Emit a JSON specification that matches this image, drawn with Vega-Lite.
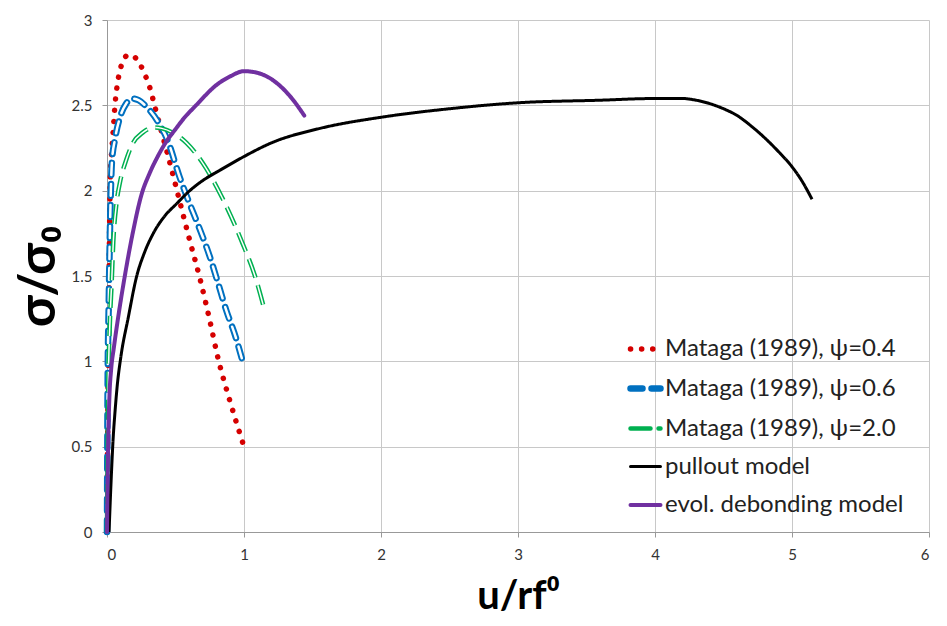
{
  "$schema": "https://vega.github.io/schema/vega-lite/v6.json",
  "width": 822,
  "height": 512,
  "autosize": {"type": "none"},
  "padding": {"left": 107, "top": 20, "right": 18, "bottom": 94},
  "background": "white",
  "config": {
    "view": {"stroke": null},
    "font": "Lato",
    "axis": {
      "gridColor": "#c8c8c8",
      "gridWidth": 1,
      "domainColor": "#999999",
      "tickColor": "#999999",
      "tickSize": 5,
      "labelFont": "Lato",
      "labelFontSize": 15,
      "labelColor": "#333333",
      "titleFont": "Lato",
      "titleFontWeight": "bold",
      "titleColor": "#000000"
    }
  },
  "data": {
    "values": [
      {"series": "Mataga (1989), ψ=0.4", "u": 0, "s": 0},
      {"series": "Mataga (1989), ψ=0.4", "u": 0.005, "s": 0.6},
      {"series": "Mataga (1989), ψ=0.4", "u": 0.012, "s": 1.2},
      {"series": "Mataga (1989), ψ=0.4", "u": 0.018, "s": 1.7},
      {"series": "Mataga (1989), ψ=0.4", "u": 0.022, "s": 2.0},
      {"series": "Mataga (1989), ψ=0.4", "u": 0.028, "s": 2.15},
      {"series": "Mataga (1989), ψ=0.4", "u": 0.036, "s": 2.25},
      {"series": "Mataga (1989), ψ=0.4", "u": 0.046, "s": 2.36},
      {"series": "Mataga (1989), ψ=0.4", "u": 0.058, "s": 2.5},
      {"series": "Mataga (1989), ψ=0.4", "u": 0.07, "s": 2.59},
      {"series": "Mataga (1989), ψ=0.4", "u": 0.083, "s": 2.66},
      {"series": "Mataga (1989), ψ=0.4", "u": 0.107, "s": 2.74},
      {"series": "Mataga (1989), ψ=0.4", "u": 0.13, "s": 2.78},
      {"series": "Mataga (1989), ψ=0.4", "u": 0.156, "s": 2.795},
      {"series": "Mataga (1989), ψ=0.4", "u": 0.19, "s": 2.79},
      {"series": "Mataga (1989), ψ=0.4", "u": 0.217, "s": 2.77},
      {"series": "Mataga (1989), ψ=0.4", "u": 0.277, "s": 2.68},
      {"series": "Mataga (1989), ψ=0.4", "u": 0.314, "s": 2.6},
      {"series": "Mataga (1989), ψ=0.4", "u": 0.35, "s": 2.49},
      {"series": "Mataga (1989), ψ=0.4", "u": 0.41, "s": 2.31},
      {"series": "Mataga (1989), ψ=0.4", "u": 0.447, "s": 2.2},
      {"series": "Mataga (1989), ψ=0.4", "u": 0.533, "s": 1.93},
      {"series": "Mataga (1989), ψ=0.4", "u": 0.6, "s": 1.72},
      {"series": "Mataga (1989), ψ=0.4", "u": 0.68, "s": 1.48},
      {"series": "Mataga (1989), ψ=0.4", "u": 0.75, "s": 1.24},
      {"series": "Mataga (1989), ψ=0.4", "u": 0.81, "s": 1.02},
      {"series": "Mataga (1989), ψ=0.4", "u": 0.9, "s": 0.76},
      {"series": "Mataga (1989), ψ=0.4", "u": 1.0, "s": 0.5},
      {"series": "Mataga (1989), ψ=0.6", "u": 0, "s": 0},
      {"series": "Mataga (1989), ψ=0.6", "u": 0.005, "s": 0.9},
      {"series": "Mataga (1989), ψ=0.6", "u": 0.012, "s": 1.3},
      {"series": "Mataga (1989), ψ=0.6", "u": 0.02, "s": 1.7},
      {"series": "Mataga (1989), ψ=0.6", "u": 0.028, "s": 2.0},
      {"series": "Mataga (1989), ψ=0.6", "u": 0.036, "s": 2.17},
      {"series": "Mataga (1989), ψ=0.6", "u": 0.058, "s": 2.3},
      {"series": "Mataga (1989), ψ=0.6", "u": 0.095, "s": 2.43},
      {"series": "Mataga (1989), ψ=0.6", "u": 0.14, "s": 2.51},
      {"series": "Mataga (1989), ψ=0.6", "u": 0.18, "s": 2.54},
      {"series": "Mataga (1989), ψ=0.6", "u": 0.23, "s": 2.53},
      {"series": "Mataga (1989), ψ=0.6", "u": 0.29, "s": 2.49},
      {"series": "Mataga (1989), ψ=0.6", "u": 0.375, "s": 2.4},
      {"series": "Mataga (1989), ψ=0.6", "u": 0.44, "s": 2.3},
      {"series": "Mataga (1989), ψ=0.6", "u": 0.53, "s": 2.08},
      {"series": "Mataga (1989), ψ=0.6", "u": 0.6, "s": 1.93},
      {"series": "Mataga (1989), ψ=0.6", "u": 0.65, "s": 1.83},
      {"series": "Mataga (1989), ψ=0.6", "u": 0.76, "s": 1.59},
      {"series": "Mataga (1989), ψ=0.6", "u": 0.81, "s": 1.46},
      {"series": "Mataga (1989), ψ=0.6", "u": 0.87, "s": 1.3},
      {"series": "Mataga (1989), ψ=0.6", "u": 0.94, "s": 1.14},
      {"series": "Mataga (1989), ψ=0.6", "u": 1.0, "s": 0.97},
      {"series": "Mataga (1989), ψ=2.0", "u": 0, "s": 0},
      {"series": "Mataga (1989), ψ=2.0", "u": 0.008, "s": 0.8},
      {"series": "Mataga (1989), ψ=2.0", "u": 0.02, "s": 1.2},
      {"series": "Mataga (1989), ψ=2.0", "u": 0.034, "s": 1.46},
      {"series": "Mataga (1989), ψ=2.0", "u": 0.046, "s": 1.7},
      {"series": "Mataga (1989), ψ=2.0", "u": 0.07, "s": 1.93},
      {"series": "Mataga (1989), ψ=2.0", "u": 0.095, "s": 2.05},
      {"series": "Mataga (1989), ψ=2.0", "u": 0.14, "s": 2.18},
      {"series": "Mataga (1989), ψ=2.0", "u": 0.19, "s": 2.28},
      {"series": "Mataga (1989), ψ=2.0", "u": 0.26, "s": 2.34},
      {"series": "Mataga (1989), ψ=2.0", "u": 0.34, "s": 2.37},
      {"series": "Mataga (1989), ψ=2.0", "u": 0.4, "s": 2.365},
      {"series": "Mataga (1989), ψ=2.0", "u": 0.48, "s": 2.34},
      {"series": "Mataga (1989), ψ=2.0", "u": 0.58, "s": 2.28},
      {"series": "Mataga (1989), ψ=2.0", "u": 0.7, "s": 2.16},
      {"series": "Mataga (1989), ψ=2.0", "u": 0.84, "s": 1.96},
      {"series": "Mataga (1989), ψ=2.0", "u": 0.99, "s": 1.69},
      {"series": "Mataga (1989), ψ=2.0", "u": 1.08, "s": 1.5},
      {"series": "Mataga (1989), ψ=2.0", "u": 1.15, "s": 1.3},
      {"series": "pullout model", "u": 0.015, "s": 0},
      {"series": "pullout model", "u": 0.03, "s": 0.3},
      {"series": "pullout model", "u": 0.045, "s": 0.55},
      {"series": "pullout model", "u": 0.06, "s": 0.72},
      {"series": "pullout model", "u": 0.075, "s": 0.86},
      {"series": "pullout model", "u": 0.1, "s": 1.02},
      {"series": "pullout model", "u": 0.156, "s": 1.26},
      {"series": "pullout model", "u": 0.217, "s": 1.5},
      {"series": "pullout model", "u": 0.27, "s": 1.63},
      {"series": "pullout model", "u": 0.338, "s": 1.75},
      {"series": "pullout model", "u": 0.42, "s": 1.85},
      {"series": "pullout model", "u": 0.51, "s": 1.925},
      {"series": "pullout model", "u": 0.59, "s": 1.99},
      {"series": "pullout model", "u": 0.7, "s": 2.06},
      {"series": "pullout model", "u": 0.825, "s": 2.12},
      {"series": "pullout model", "u": 1.0, "s": 2.2},
      {"series": "pullout model", "u": 1.2, "s": 2.28},
      {"series": "pullout model", "u": 1.555, "s": 2.365},
      {"series": "pullout model", "u": 2.0, "s": 2.43},
      {"series": "pullout model", "u": 2.5, "s": 2.48},
      {"series": "pullout model", "u": 3.0, "s": 2.515},
      {"series": "pullout model", "u": 3.6, "s": 2.53},
      {"series": "pullout model", "u": 4.0, "s": 2.54},
      {"series": "pullout model", "u": 4.2, "s": 2.54},
      {"series": "pullout model", "u": 4.3, "s": 2.53},
      {"series": "pullout model", "u": 4.4, "s": 2.51},
      {"series": "pullout model", "u": 4.5, "s": 2.48},
      {"series": "pullout model", "u": 4.6, "s": 2.44},
      {"series": "pullout model", "u": 4.7, "s": 2.38},
      {"series": "pullout model", "u": 4.8, "s": 2.31},
      {"series": "pullout model", "u": 4.9, "s": 2.23},
      {"series": "pullout model", "u": 5.0, "s": 2.14},
      {"series": "pullout model", "u": 5.07, "s": 2.06},
      {"series": "pullout model", "u": 5.146, "s": 1.95},
      {"series": "evol. debonding model", "u": 0, "s": 0},
      {"series": "evol. debonding model", "u": 0.008, "s": 0.5},
      {"series": "evol. debonding model", "u": 0.018, "s": 0.8},
      {"series": "evol. debonding model", "u": 0.03, "s": 0.95},
      {"series": "evol. debonding model", "u": 0.05, "s": 1.08},
      {"series": "evol. debonding model", "u": 0.08, "s": 1.25},
      {"series": "evol. debonding model", "u": 0.13, "s": 1.5},
      {"series": "evol. debonding model", "u": 0.19, "s": 1.76},
      {"series": "evol. debonding model", "u": 0.253, "s": 1.98},
      {"series": "evol. debonding model", "u": 0.31, "s": 2.1},
      {"series": "evol. debonding model", "u": 0.37, "s": 2.2},
      {"series": "evol. debonding model", "u": 0.435, "s": 2.29},
      {"series": "evol. debonding model", "u": 0.5, "s": 2.36},
      {"series": "evol. debonding model", "u": 0.557, "s": 2.42},
      {"series": "evol. debonding model", "u": 0.65, "s": 2.5},
      {"series": "evol. debonding model", "u": 0.8, "s": 2.62},
      {"series": "evol. debonding model", "u": 0.9, "s": 2.67},
      {"series": "evol. debonding model", "u": 1.0, "s": 2.7},
      {"series": "evol. debonding model", "u": 1.1, "s": 2.69},
      {"series": "evol. debonding model", "u": 1.24, "s": 2.63},
      {"series": "evol. debonding model", "u": 1.35, "s": 2.54},
      {"series": "evol. debonding model", "u": 1.44, "s": 2.44}
    ]
  },
  "encoding": {
    "x": {
      "field": "u", "type": "quantitative",
      "scale": {"domain": [0, 6], "nice": false},
      "axis": {"values": [0, 1, 2, 3, 4, 5, 6], "format": "d", "title": "u/rf⁰", "titleFontSize": 40, "titlePadding": 14, "labelPadding": 10}
    },
    "y": {
      "field": "s", "type": "quantitative",
      "scale": {"domain": [0, 3], "nice": false},
      "axis": {"values": [0, 0.5, 1, 1.5, 2, 2.5, 3], "format": "~g", "title": "σ/σ₀", "titleFontSize": 52, "titlePadding": 6, "labelPadding": 10}
    },
    "color": {
      "field": "series", "type": "nominal",
      "scale": {
        "domain": ["Mataga (1989), ψ=0.4", "Mataga (1989), ψ=0.6", "Mataga (1989), ψ=2.0", "pullout model", "evol. debonding model"],
        "range": ["#d50000", "#0070c0", "#00b050", "#000000", "#7030a0"]
      },
      "legend": {
        "title": null,
        "orient": "none",
        "legendX": 520,
        "legendY": 311,
        "padding": 0,
        "offset": 0,
        "symbolType": "stroke",
        "symbolSize": 900,
        "symbolOffset": 0,
        "labelOffset": 1,
        "labelFont": "Lato",
        "labelFontSize": 24,
        "labelColor": "#222222",
        "labelLimit": 0,
        "rowPadding": 9,
        "encoding": {"symbols": {"strokeCap": {"value": "round"}}}
      }
    },
    "strokeDash": {
      "field": "series", "type": "nominal",
      "scale": {
        "domain": ["Mataga (1989), ψ=0.4", "Mataga (1989), ψ=0.6", "Mataga (1989), ψ=2.0", "pullout model", "evol. debonding model"],
        "range": [[0.1, 11], [12, 9], [20, 8], [1, 0], [1, 0]]
      }
    },
    "strokeWidth": {
      "field": "series", "type": "nominal",
      "scale": {
        "type": "ordinal",
        "domain": ["Mataga (1989), ψ=0.4", "Mataga (1989), ψ=0.6", "Mataga (1989), ψ=2.0", "pullout model", "evol. debonding model"],
        "range": [5.5, 6.5, 4.5, 3, 4]
      }
    }
  },
  "layer": [
    {
      "transform": [{"filter": "datum.series === 'Mataga (1989), ψ=0.4'"}],
      "mark": {"type": "line", "interpolate": "monotone", "strokeCap": "round"}
    },
    {
      "transform": [{"filter": "datum.series === 'Mataga (1989), ψ=0.6'"}],
      "mark": {"type": "line", "interpolate": "monotone", "strokeCap": "round"}
    },
    {
      "transform": [{"filter": "datum.series === 'Mataga (1989), ψ=0.6'"}],
      "mark": {"type": "line", "interpolate": "monotone", "strokeCap": "round"},
      "encoding": {"color": {"value": "white"}, "strokeDash": {"value": [12, 9]}, "strokeWidth": {"value": 2.5}}
    },
    {
      "transform": [{"filter": "datum.series === 'Mataga (1989), ψ=2.0'"}],
      "mark": {"type": "line", "interpolate": "monotone", "strokeCap": "butt"}
    },
    {
      "transform": [{"filter": "datum.series === 'Mataga (1989), ψ=2.0'"}],
      "mark": {"type": "line", "interpolate": "monotone", "strokeCap": "butt"},
      "encoding": {"color": {"value": "white"}, "strokeDash": {"value": [20, 8]}, "strokeWidth": {"value": 1.5}}
    },
    {
      "transform": [{"filter": "datum.series === 'pullout model'"}],
      "mark": {"type": "line", "interpolate": "monotone"}
    },
    {
      "transform": [{"filter": "datum.series === 'evol. debonding model'"}],
      "mark": {"type": "line", "interpolate": "monotone", "strokeCap": "round"}
    }
  ]
}
